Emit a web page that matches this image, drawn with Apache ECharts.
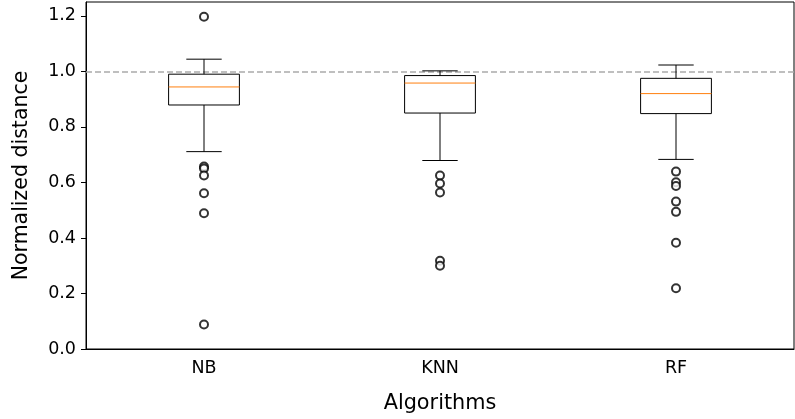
<!DOCTYPE html>
<html>
<head>
<meta charset="utf-8">
<script src="https://cdn.jsdelivr.net/npm/echarts@6/dist/echarts.min.js"></script>
<style>
html,body{margin:0;padding:0;background:#fff;}
#chart{width:795px;height:419px;}
</style>
</head>
<body>
<div id="chart"></div>
<script>
var categories = ['NB', 'KNN', 'RF'];
var whiskerLow = [0.711, 0.679, 0.683];
var q1 = [0.879, 0.850, 0.848];
var median = [0.944, 0.958, 0.920];
var q3 = [0.990, 0.985, 0.975];
var whiskerHigh = [1.044, 1.002, 1.023];
var outliersNB = [1.197, 0.657, 0.650, 0.625, 0.561, 0.489, 0.088];
var outliersKNN = [0.625, 0.596, 0.564, 0.318, 0.300];
var outliersRF = [0.639, 0.601, 0.587, 0.531, 0.494, 0.383, 0.219];
var referenceValue = 1.0;
var yTicks = [0.0, 0.2, 0.4, 0.6, 0.8, 1.0, 1.2];

var boxData = categories.map(function (c, i) {
  return [i, whiskerLow[i], q1[i], median[i], q3[i], whiskerHigh[i]];
});
var outlierData = [];
[outliersNB, outliersKNN, outliersRF].forEach(function (arr, i) {
  arr.forEach(function (v) { outlierData.push([i, v]); });
});

var font = 'DejaVu Sans';
var chart = echarts.init(document.getElementById('chart'), null, {renderer: 'canvas'});
chart.setOption({
  animation: false,
  backgroundColor: '#fff',
  grid: {left: 86, right: 1, top: 2, bottom: 69, show: true, borderColor: '#000', borderWidth: 1, backgroundColor: 'transparent'},
  xAxis: {
    type: 'category',
    data: categories,
    boundaryGap: true,
    name: 'Algorithms',
    nameLocation: 'middle',
    nameGap: 44,
    nameTextStyle: {fontFamily: font, fontSize: 20.8, color: '#000'},
    axisLine: {lineStyle: {color: '#000', width: 1}},
    axisTick: {alignWithLabel: true, length: 5, lineStyle: {color: '#000'}},
    axisLabel: {fontFamily: font, fontSize: 17.5, color: '#000', margin: 10},
    splitLine: {show: false}
  },
  yAxis: {
    type: 'value',
    min: 0,
    max: 1.25,
    interval: 0.2,
    name: 'Normalized distance',
    nameLocation: 'middle',
    nameGap: 54,
    nameTextStyle: {fontFamily: font, fontSize: 20.5, color: '#000'},
    axisLine: {show: true, lineStyle: {color: '#000', width: 1}},
    axisTick: {show: true, length: 5, lineStyle: {color: '#000'}},
    axisLabel: {fontFamily: font, fontSize: 17.5, color: '#000', margin: 10, showMaxLabel: false,
      formatter: function (v) { return yTicks.indexOf(Math.round(v * 10) / 10) >= 0 ? v.toFixed(1) : ''; }},
    splitLine: {show: false}
  },
  series: [
    {
      type: 'custom',
      data: boxData,
      z: 3,
      renderItem: function (params, api) {
        var x = api.value(0);
        var bw = api.size([1, 0])[0];
        var hw = bw * 0.15, cw = bw * 0.075;
        var pLow = api.coord([x, api.value(1)]);
        var pQ1 = api.coord([x, api.value(2)]);
        var pMed = api.coord([x, api.value(3)]);
        var pQ3 = api.coord([x, api.value(4)]);
        var pHigh = api.coord([x, api.value(5)]);
        var cx = pLow[0];
        var st = {stroke: '#000', lineWidth: 1, fill: null};
        return {
          type: 'group',
          children: [
            {type: 'rect', shape: {x: cx - hw, y: pQ3[1], width: 2 * hw, height: pQ1[1] - pQ3[1]}, style: {stroke: '#000', lineWidth: 1, fill: 'transparent'}},
            {type: 'line', shape: {x1: cx, y1: pQ1[1], x2: cx, y2: pLow[1]}, style: st},
            {type: 'line', shape: {x1: cx, y1: pQ3[1], x2: cx, y2: pHigh[1]}, style: st},
            {type: 'line', shape: {x1: cx - cw, y1: pLow[1], x2: cx + cw, y2: pLow[1]}, style: st},
            {type: 'line', shape: {x1: cx - cw, y1: pHigh[1], x2: cx + cw, y2: pHigh[1]}, style: st},
            {type: 'line', shape: {x1: cx - hw, y1: pMed[1], x2: cx + hw, y2: pMed[1]}, style: {stroke: '#ff7f0e', lineWidth: 1}}
          ]
        };
      },
      markLine: {
        silent: true,
        symbol: 'none',
        label: {show: false},
        lineStyle: {color: '#aaaaaa', width: 1.5, type: [6, 3]},
        data: [{yAxis: referenceValue}],
        z: 1
      }
    },
    {
      type: 'scatter',
      data: outlierData,
      symbol: 'emptyCircle',
      symbolSize: 8,
      itemStyle: {color: '#000', borderColor: '#000', borderWidth: 1},
      z: 4
    }
  ]
});
</script>
</body>
</html>
